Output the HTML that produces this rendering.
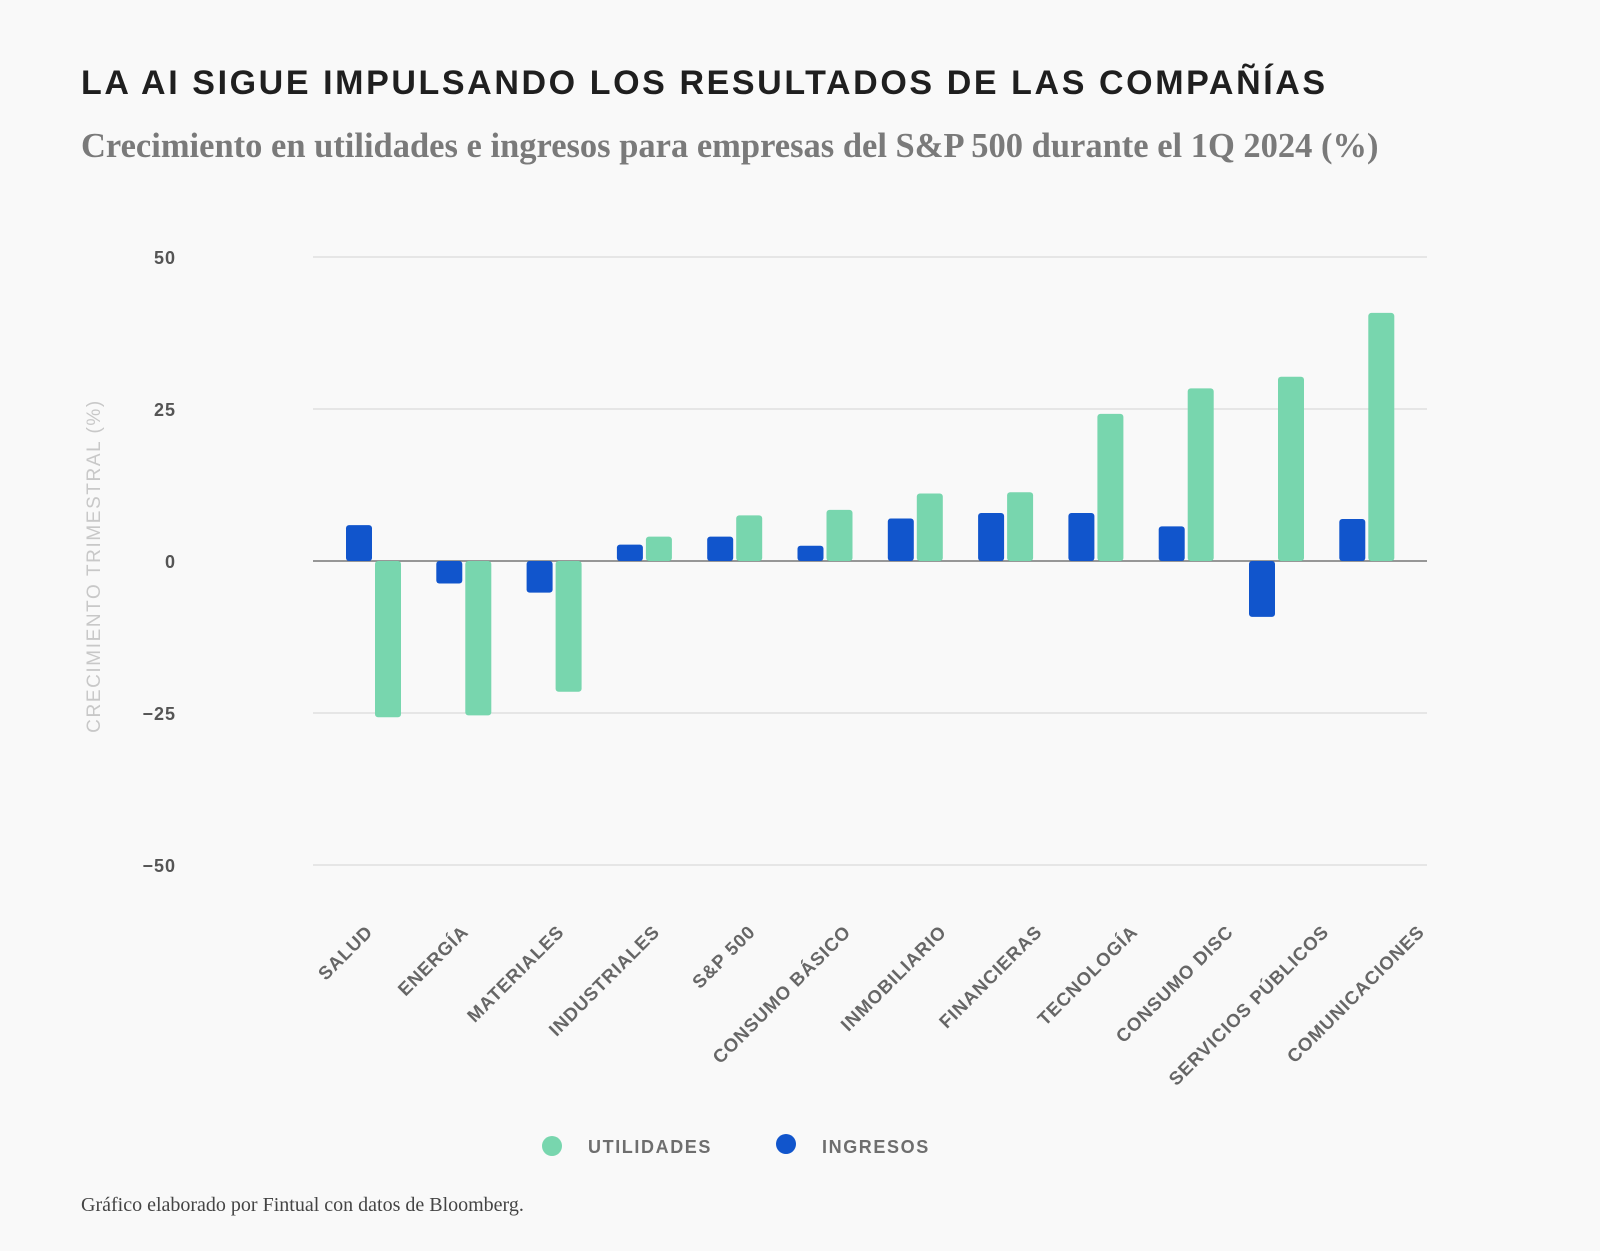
<!DOCTYPE html>
<html><head><meta charset="utf-8"><style>
body{margin:0;background:#f9f9f9;}
svg{display:block;}
</style></head><body>
<svg id="chart" width="1600" height="1251" viewBox="0 0 1600 1251">
<rect width="1600" height="1251" fill="#f9f9f9"/>
<text x="81" y="94" font-family="Liberation Sans, sans-serif" font-weight="bold" font-size="34" letter-spacing="2.6" fill="#1f1f1f">LA AI SIGUE IMPULSANDO LOS RESULTADOS DE LAS COMPAÑÍAS</text>
<text x="81" y="157" font-family="Liberation Serif, serif" font-weight="bold" font-size="34.5" fill="#7a7a7a">Crecimiento en utilidades e ingresos para empresas del S&amp;P 500 durante el 1Q 2024 (%)</text>
<g id="grid"></g>
<g id="bars"></g>
<g id="xlabels"></g>
<text transform="translate(100,566) rotate(-90)" text-anchor="middle" font-family="Liberation Sans, sans-serif" font-size="19" letter-spacing="1.6" fill="#c8c8c8">CRECIMIENTO TRIMESTRAL (%)</text>
<g>
<circle cx="552" cy="1146" r="10" fill="#78d6ae"/>
<text x="588" y="1153" font-family="Liberation Sans, sans-serif" font-weight="bold" font-size="18" letter-spacing="1.6" fill="#6e6e6e">UTILIDADES</text>
<circle cx="786" cy="1144" r="10" fill="#1155cc"/>
<text x="822" y="1153" font-family="Liberation Sans, sans-serif" font-weight="bold" font-size="18" letter-spacing="1.6" fill="#6e6e6e">INGRESOS</text>
</g>
<text x="81" y="1211" font-family="Liberation Serif, serif" font-size="20" fill="#444">Gráfico elaborado por Fintual con datos de Bloomberg.</text>
</svg>
<script>
const categories=["SALUD","ENERGÍA","MATERIALES","INDUSTRIALES","S&P 500","CONSUMO BÁSICO","INMOBILIARIO","FINANCIERAS","TECNOLOGÍA","CONSUMO DISC","SERVICIOS PÚBLICOS","COMUNICACIONES"];
const ingresos=[5.9,-3.7,-5.2,2.7,4.0,2.5,7.0,7.9,7.9,5.7,-9.2,6.9];
const utilidades=[-25.7,-25.4,-21.5,4.0,7.5,8.4,11.1,11.3,24.2,28.4,30.3,40.8];
const yTicks=[50,25,0,-25,-50];
const NS="http://www.w3.org/2000/svg";
const plotL=313,plotR=1427,y0=561,pxPer=152/25;
function y(v){return y0-v*pxPer;}
function xc(i){return 374+i*90.3;}
function xlab(i){return 376+i*95.6;}
function mk(tag,attrs,parent){const e=document.createElementNS(NS,tag);for(const k in attrs)e.setAttribute(k,attrs[k]);parent.appendChild(e);return e;}
const grid=document.getElementById('grid'),bars=document.getElementById('bars'),xl=document.getElementById('xlabels');
yTicks.forEach(t=>{
  const l=mk('line',{x1:plotL,x2:plotR,y1:y(t),y2:y(t),stroke:t===0?'#777':'#d4d4d4','stroke-width':t===0?1.5:1},grid);
  
  
  const tx=mk('text',{x:176,y:y(t)+7,'text-anchor':'end','font-family':'Liberation Sans, sans-serif','font-weight':'bold','font-size':18,'letter-spacing':1,fill:'#555'},grid);
  tx.textContent=(t<0?'−':'')+Math.abs(t);
  
  
});
function bar(x,v,fill,name){
  const top=Math.min(y(v),y0),h=Math.abs(y(v)-y0);
  const r=mk('rect',{x:x,y:top,width:26,height:Math.max(h,0.5),rx:3,fill:fill},bars);
  
  
}
categories.forEach((c,i)=>{
  const cx=xc(i);
  bar(cx-28,ingresos[i],'#1155cc','bar-ingresos');
  bar(cx+1,utilidades[i],'#78d6ae','bar-utilidades');
  const t=mk('text',{transform:`translate(${xlab(i)-2},${933}) rotate(-45)`,'text-anchor':'end','font-family':'Liberation Sans, sans-serif','font-weight':'bold','font-size':18.5,'letter-spacing':0.9,fill:'#666'},xl);
  t.textContent=c;
  
  
});
</script>
</body></html>
